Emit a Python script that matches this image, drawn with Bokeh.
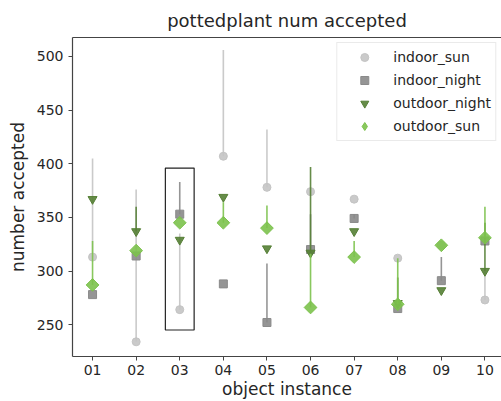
from bokeh.plotting import figure
from bokeh.models import (ColumnDataSource, FixedTicker, Range1d, LinearAxis,
                          Legend, LegendItem)
from bokeh.embed import file_html
from bokeh.resources import INLINE
import math

# object instances
instances = ["01", "02", "03", "04", "05", "06", "07", "08", "09", "10"]

# accepted counts per condition (marker value) and the far end of each whisker
indoor_sun = [313, 234, 264, 407, 378, 374, 367, 312, 324, 273]
indoor_sun_end = [405, 376, 335, 506, 432, 374, 367, 312, 324, 300]

indoor_night = [278, 314, 353, 288, 252, 320, 349, 265, 291, 328]
indoor_night_end = [278, 314, 383, 288, 307, 353, 353, 265, 313, 328]

outdoor_night = [367, 337, 329, 369, 321, 317, 337, 270, 282, 300]
outdoor_night_end = [367, 360, 329, 369, 321, 397, 337, 294, 282, 345]

outdoor_sun = [287, 319, 345, 345, 340, 266, 313, 269, 324, 331]
outdoor_sun_end = [328, 319, 345, 364, 361, 316, 328, 312, 324, 360]

# highlighted instance and the span of its box
highlight_index = 2
highlight_low = 245
highlight_high = 396

# name, values, whisker ends, marker, colour, size, angle, legend marker
series = [
    ("indoor_sun", indoor_sun, indoor_sun_end, "circle", "#c4c4c4", 8, 0, "circle"),
    ("indoor_night", indoor_night, indoor_night_end, "square", "#8a8a8a", 8, 0, "square"),
    ("outdoor_night", outdoor_night, outdoor_night_end, "inverted_triangle", "#557f35", 9, 0,
     "inverted_triangle"),
    ("outdoor_sun", outdoor_sun, outdoor_sun_end, "square", "#7cc24c", 9, math.pi / 4,
     "diamond"),
]

FONT = "DejaVu Sans"
TXT = "#262626"

X_MIN, X_MAX = -0.46, 9.38
Y_MIN, Y_MAX = 220.3, 517.7

p = figure(width=501, height=401, output_backend="svg", toolbar_location=None,
           x_range=Range1d(X_MIN, X_MAX), y_range=Range1d(Y_MIN, Y_MAX),
           min_border_left=72, min_border_right=0, min_border_top=6,
           min_border_bottom=0)
p.outline_line_color = None
p.grid.visible = False
p.background_fill_color = "white"
p.border_fill_color = "white"

p.title.text = "pottedplant num accepted"
p.title.align = "center"
p.title.text_font = FONT
p.title.text_font_size = "18px"
p.title.text_font_style = "normal"
p.title.text_color = TXT
p.title.offset = 0
p.title.standoff = 14

xs = list(range(len(instances)))
legend_items = []
for name, vals, ends, marker, color, size, angle, lmarker in series:
    src = ColumnDataSource(dict(x=xs, y=vals, y1=ends))
    p.segment(x0="x", y0="y", x1="x", y1="y1", source=src,
              line_color=color, line_width=1.6, line_alpha=0.9)
    p.scatter(x="x", y="y", source=src, marker=marker, size=size,
              angle=angle, fill_color=color, line_color=color, fill_alpha=0.9)
    # legend swatch: one point placed outside the visible ranges
    proxy = p.scatter(x=[X_MIN - 100], y=[Y_MIN - 1000], marker=lmarker,
                      size=size, fill_color=color, line_color=color,
                      fill_alpha=0.9)
    legend_items.append(LegendItem(label=name, renderers=[proxy]))

# highlight box around one instance
p.quad(left=[highlight_index - 0.33], right=[highlight_index + 0.33],
       bottom=[highlight_low], top=[highlight_high],
       fill_color=None, line_color="#222222", line_width=1.2)

# axes styling
for ax in (p.xaxis[0], p.yaxis[0]):
    ax.axis_line_color = "#444444"
    ax.axis_line_width = 1.2
    ax.major_tick_line_color = "#444444"
    ax.major_tick_out = 4
    ax.major_tick_in = 0
    ax.minor_tick_out = 0
    ax.minor_tick_in = 0
    ax.major_label_text_font = FONT
    ax.major_label_text_font_size = "14px"
    ax.major_label_text_color = TXT
    ax.axis_label_text_font = FONT
    ax.axis_label_text_font_size = "17px"
    ax.axis_label_text_font_style = "normal"
    ax.axis_label_text_color = TXT

p.xaxis.ticker = FixedTicker(ticks=xs)
p.xaxis.major_label_overrides = {i: lab for i, lab in enumerate(instances)}
p.xaxis.major_label_standoff = 4
p.xaxis.axis_label = "object instance"
p.xaxis.axis_label_standoff = 1
p.yaxis.ticker = FixedTicker(ticks=[250, 300, 350, 400, 450, 500])
p.yaxis.axis_label = "number accepted"
p.yaxis.axis_label_standoff = 6

# top spine
top = LinearAxis(ticker=FixedTicker(ticks=[]), axis_line_color="#444444",
                 axis_line_width=1.2, major_tick_out=0, minor_tick_out=0,
                 major_label_text_font_size="0px")
p.add_layout(top, "above")

legend = Legend(items=legend_items, location="top_right")
legend.label_text_font = FONT
legend.label_text_font_size = "14px"
legend.label_text_color = TXT
legend.border_line_color = "#d6d6d6"
legend.border_line_width = 1
legend.background_fill_alpha = 0.85
legend.spacing = 3
legend.padding = 4
legend.margin = 5
legend.glyph_width = 46
legend.glyph_height = 20
legend.label_standoff = 6
p.add_layout(legend)

open("out.html", "w").write(file_html(p, INLINE))
